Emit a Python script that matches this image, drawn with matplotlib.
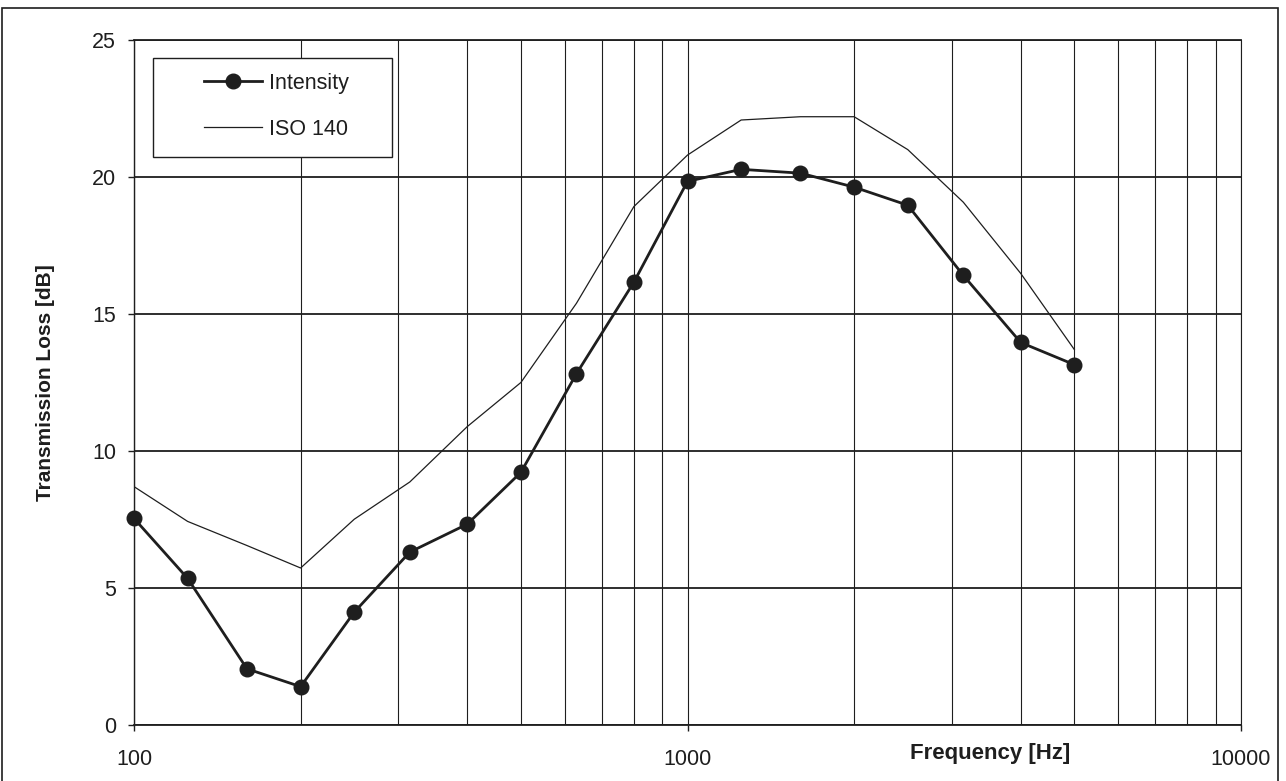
import matplotlib
matplotlib.use("Agg")
import matplotlib.pyplot as plt
from matplotlib.ticker import LogLocator, FixedLocator, NullFormatter, FixedFormatter
import matplotlib.patches as mpatches

freq = [100, 125, 160, 200, 250, 315, 400, 500, 630, 800, 1000, 1250, 1600, 2000, 2500, 3150, 4000, 5000]
intensity = [7.54, 5.35, 2.05, 1.40, 4.12, 6.31, 7.33, 9.22, 12.82, 16.16, 19.84, 20.28, 20.14, 19.63, 18.97, 16.41, 13.96, 13.15]
iso140 = [8.70, 7.43, 6.55, 5.73, 7.51, 8.87, 10.89, 12.50, 15.39, 18.92, 20.80, 22.08, 22.20, 22.20, 21.00, 19.08, 16.48, 13.70]
yticks = [0, 5, 10, 15, 20, 25]
xticks = [100, 1000, 10000]
xticklabels = ["100", "1000", "10000"]

plt.rcParams['font.family'] = ['Liberation Sans', 'DejaVu Sans']
ink = "#1e1e1e"
W, H = 1286, 781
L, R, T, B = 134, 1241, 40, 725

fig = plt.figure(figsize=(W/100, H/100), dpi=100)
ax = fig.add_axes([L/W, 1-B/H, (R-L)/W, (B-T)/H])

def ax_x(px):
    return (px - L) / (R - L)

def ax_y(py):
    return (B - py) / (B - T)

iso_line, = ax.plot(freq, iso140, color=ink, lw=0.9, label="ISO 140", zorder=3)
int_line, = ax.plot(freq, intensity, color=ink, lw=2.0, marker='o', markersize=10.5,
                    markerfacecolor=ink, markeredgecolor=ink, label="Intensity",
                    zorder=4, clip_on=False)

ax.set_xscale('log')
ax.set_xlim(100, 10000)
ax.set_ylim(0, 25)
ax.xaxis.set_major_locator(FixedLocator(xticks))
ax.xaxis.set_major_formatter(FixedFormatter(xticklabels))
ax.xaxis.set_minor_locator(LogLocator(base=10, subs=range(2, 10)))
ax.xaxis.set_minor_formatter(NullFormatter())
ax.set_yticks(yticks)

ax.grid(True, which='major', axis='y', color=ink, lw=1.3)
ax.grid(True, which='both', axis='x', color=ink, lw=0.8)
ax.set_axisbelow(True)

for s in ['left', 'bottom', 'top', 'right']:
    ax.spines[s].set_color(ink)
ax.spines['left'].set_linewidth(1.0)
ax.spines['right'].set_linewidth(0.8)
ax.spines['bottom'].set_linewidth(1.3)
ax.spines['top'].set_linewidth(1.3)

ax.tick_params(axis='both', which='major', labelsize=15.5, colors=ink, length=4, width=1.0)
ax.tick_params(axis='x', which='major', pad=13)
ax.tick_params(axis='x', which='minor', length=0)
ax.tick_params(axis='y', pad=9)

ax.set_ylabel("Transmission Loss [dB]", fontsize=15, fontweight='bold', color=ink)
ax.yaxis.set_label_coords(ax_x(46), 0.5, transform=ax.transAxes)
ax.yaxis.label.set_verticalalignment('center')
ax.set_xlabel("Frequency [Hz]", fontsize=16, fontweight='bold', color=ink)
ax.xaxis.set_label_coords(ax_x(990), ax_y(753), transform=ax.transAxes)
ax.xaxis.label.set_verticalalignment('center')

# legend frame
box = mpatches.Rectangle((ax_x(153), ax_y(157)), ax_x(392) - ax_x(153), ax_y(58) - ax_y(157),
                         transform=ax.transAxes, facecolor='white', edgecolor=ink, lw=1.0, zorder=5)
ax.add_patch(box)
leg = ax.legend(handles=[int_line, iso_line], loc='upper left',
                bbox_to_anchor=(ax_x(204), ax_y(73)),
                frameon=False, fontsize=15.5, handlelength=2.7,
                borderpad=0, labelspacing=1.15, handletextpad=0.3, borderaxespad=0)
leg.set_zorder(6)
for t in leg.get_texts():
    t.set_color(ink)

frame = mpatches.Rectangle((2/W, -0.01), (1278-2)/W, 1.01 - 8/H,
                           transform=fig.transFigure, fill=False, edgecolor=ink, lw=1.2)
fig.patches.append(frame)

fig.savefig("out.png", dpi=100)
